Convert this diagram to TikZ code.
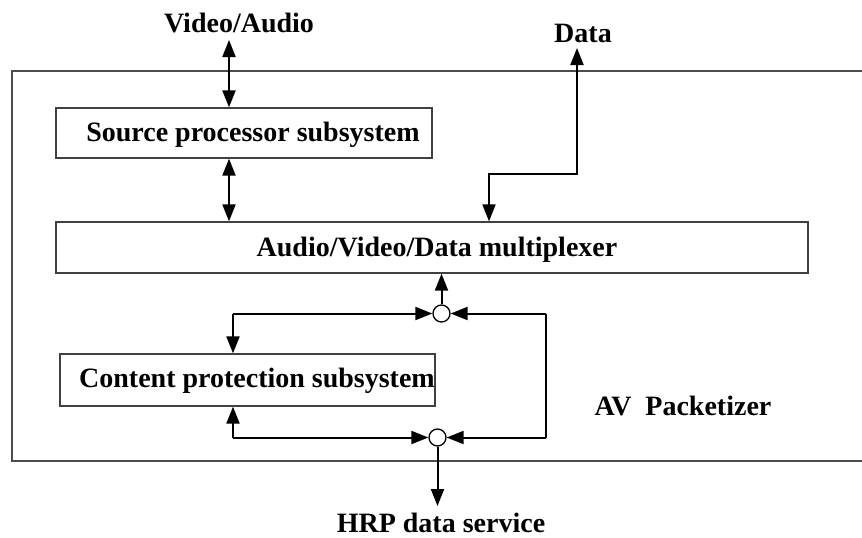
\documentclass[tikz,border=0pt]{standalone}
\usepackage{fontspec}
\setmainfont{Liberation Serif}
\usetikzlibrary{arrows.meta}
\begin{document}
\begin{tikzpicture}[x=1pt,y=-1pt,
  box/.style={draw=black!75,line width=1.3pt,inner sep=0pt},
  lbl/.style={font=\bfseries\fontsize{28}{30}\selectfont,inner sep=0pt},
  conn/.style={line width=2pt,-{Triangle[length=17pt,width=13pt]}},
  bconn/.style={line width=2pt,{Triangle[length=17pt,width=13pt]}-{Triangle[length=17pt,width=13pt]}},
  junc/.style={circle,draw,line width=1.3pt,fill=white,minimum size=17pt,inner sep=0pt}]
\useasboundingbox (0,0) rectangle (862,538);
% outer packetizer frame (right side runs off the page)
\draw[draw=black!70,line width=1.3pt] (870,71) -- (12,71) -- (12,461) -- (870,461);
% boxes
\node[box,minimum width=376pt,minimum height=50pt] (src) at (244,133) {};
\node[lbl] at (253,135) {Source processor subsystem};
\node[box,minimum width=752pt,minimum height=51pt] (mux) at (432,247.5) {};
\node[lbl] at (437,250) {Audio/Video/Data multiplexer};
\node[box,minimum width=375pt,minimum height=52pt] (cps) at (247.5,380) {};
\node[lbl] at (257,381) {Content protection subsystem};
\node[lbl] (pkt) at (683,406) {AV\ \ Packetizer};
% external labels
\node[lbl] (va) at (239,23) {Video/Audio};
\node[lbl] (data) at (583,33) {Data};
\node[lbl] (hrp) at (441,523) {HRP data service};
% junctions
\node[junc] (j1) at (441.5,313.5) {};
\node[junc] (j2) at (437.5,437.5) {};
\coordinate (r1) at (546,313.5);
\coordinate (r2) at (546,437.5);
% connectors
\draw[bconn] (229,40) -- (src.north -| 229,0);
\draw[bconn] (src.south -| 229,0) -- (mux.north -| 229,0);
\draw[bconn] (577,48) -- (577,174) -- (489,174) -- (mux.north -| 489,0);
\draw[conn] (j1) -- (mux.south -| j1);
\draw[conn] (233,313.5) -- (j1);
\draw[conn] (233,313.5) -- (cps.north -| 233,0);
\draw[conn] (r1) -- (j1);
\draw[line width=2pt] (r1) -- (r2);
\draw[conn] (r2) -- (j2);
\draw[conn] (233,437.5) -- (j2);
\draw[conn] (233,437.5) -- (cps.south -| 233,0);
\draw[conn] (j2) -- (437.5,506);
\end{tikzpicture}
\end{document}
